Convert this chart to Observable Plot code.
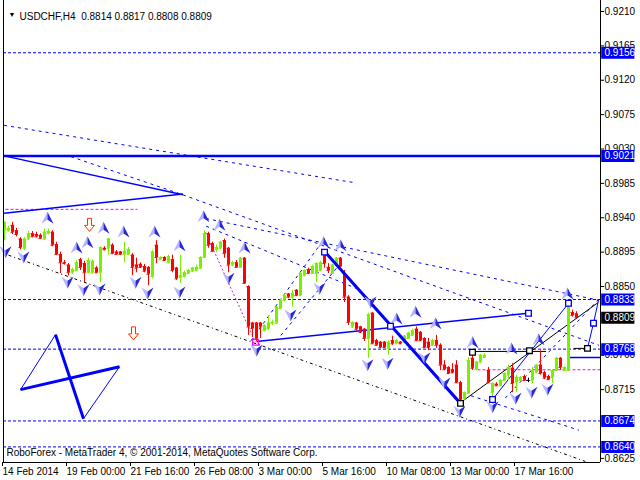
<!DOCTYPE html>
<html><head><meta charset="utf-8">
<script src="https://cdn.jsdelivr.net/npm/d3@7"></script>
<script src="https://cdn.jsdelivr.net/npm/@observablehq/plot@0.6"></script>
<style>html,body{margin:0;padding:0;background:#fff;overflow:hidden}</style>
</head><body><div id="chart"></div>
<script>
// ---- data (H4 bars, USDCHF) ----
const opens = [.8923,.8923,.8930,.8923,.8912,.8900,.8912,.8919,.8918,.8917,
.8912,.8919,.8921,.8905,.8892,.8881,.8878,.8868,.8871,.8885,
.8880,.8868,.8868,.8874,.8868,.8900,.8900,.8904,.8895,.8895,
.8892,.8892,.8891,.8878,.8879,.8876,.8875,.8863,.8904,.8885,
.8888,.8881,.8885,.8874,.8862,.8863,.8867,.8870,.8871,.8874,
.8888,.8919,.8906,.8898,.8900,.8910,.8900,.8878,.8881,.8875,
.8887,.8850,.8802,.8802,.8802,.8792,.8795,.8802,.8802,.8821,
.8832,.8840,.8836,.8845,.8838,.8864,.8872,.8867,.8867,.8871,
.8895,.8875,.8867,.8878,.8887,.8867,.8836,.8797,.8802,.8797,
.8794,.8782,.8815,.8779,.8777,.8777,.8769,.8779,.8775,.8777,
.8777,.8782,.8786,.8794,.8790,.8782,.8777,.8773,.8779,.8773,
.8747,.8744,.8741,.8747,.8724,.8703,.8710,.8756,.8741,.8751,
.8757,.8740,.8711,.8722,.8720,.8727,.8734,.8743,.8724,.8727,
.8732,.8727,.8727,.8737,.8747,.8737,.8732,.8731,.8740,.8756,
.8740,.8740,.8816,.8814];
const highs = [.8935,.8929,.8934,.8926,.8914,.8914,.8922,.8922,.8921,.8919,
.8925,.8925,.8923,.8908,.8895,.8884,.8880,.8874,.8884,.8887,
.8883,.8887,.8885,.8876,.8902,.8902,.8913,.8906,.8897,.8896,
.8908,.8901,.8893,.8887,.8881,.8879,.8876,.8897,.8910,.8889,
.8889,.8891,.8891,.8875,.8891,.8870,.8872,.8875,.8878,.8889,
.8923,.8921,.8908,.8904,.8909,.8912,.8901,.8883,.8884,.8888,
.8888,.8851,.8803,.8803,.8803,.8800,.8812,.8806,.8824,.8833,
.8840,.8841,.8845,.8846,.8868,.8872,.8874,.8878,.8881,.8883,
.8897,.8880,.8879,.8888,.8888,.8871,.8838,.8804,.8803,.8798,
.8795,.8815,.8816,.8781,.8778,.8778,.8779,.8785,.8781,.8778,
.8786,.8790,.8794,.8797,.8791,.8783,.8782,.8781,.8786,.8775,
.8753,.8745,.8749,.8753,.8726,.8712,.8757,.8764,.8752,.8761,
.8762,.8744,.8724,.8724,.8728,.8737,.8747,.8749,.8734,.8732,
.8734,.8730,.8744,.8748,.8766,.8739,.8734,.8740,.8757,.8757,
.8745,.8829,.8819,.8817];
const lows = [.8910,.8921,.8918,.8915,.8898,.8897,.8910,.8914,.8914,.8912,
.8910,.8918,.8902,.8891,.8867,.8878,.8864,.8866,.8870,.8871,
.8855,.8867,.8866,.8867,.8855,.8897,.8891,.8892,.8891,.8891,
.8881,.8891,.8864,.8868,.8874,.8868,.8851,.8860,.8880,.8884,
.8883,.8880,.8868,.8858,.8854,.8862,.8866,.8868,.8870,.8872,
.8887,.8900,.8895,.8895,.8898,.8887,.8868,.8876,.8874,.8874,
.8853,.8786,.8783,.8778,.8782,.8791,.8792,.8799,.8800,.8820,
.8830,.8834,.8823,.8837,.8837,.8863,.8866,.8866,.8855,.8870,
.8874,.8867,.8866,.8876,.8875,.8829,.8799,.8795,.8792,.8789,
.8778,.8756,.8774,.8772,.8769,.8769,.8760,.8773,.8774,.8774,
.8775,.8781,.8785,.8778,.8778,.8769,.8766,.8772,.8769,.8740,
.8740,.8735,.8736,.8723,.8696,.8701,.8709,.8740,.8740,.8749,
.8756,.8723,.8702,.8719,.8719,.8726,.8727,.8711,.8711,.8726,
.8726,.8724,.8723,.8736,.8734,.8728,.8727,.8723,.8739,.8740,
.8739,.8739,.8810,.8808];
const closes = [.8934,.8926,.8921,.8918,.8901,.8912,.8919,.8915,.8915,.8913,
.8921,.8922,.8904,.8892,.8881,.8880,.8868,.8872,.8881,.8875,
.8868,.8884,.8883,.8868,.8901,.8898,.8912,.8893,.8892,.8892,
.8896,.8898,.8875,.8874,.8875,.8870,.8866,.8895,.8888,.8888,
.8884,.8889,.8871,.8860,.8864,.8868,.8871,.8874,.8875,.8888,
.8919,.8904,.8896,.8901,.8908,.8893,.8878,.8881,.8875,.8887,
.8854,.8797,.8795,.8781,.8797,.8799,.8802,.8803,.8823,.8832,
.8838,.8836,.8841,.8838,.8867,.8871,.8867,.8876,.8880,.8881,
.8880,.8871,.8878,.8887,.8876,.8836,.8803,.8803,.8794,.8790,
.8782,.8813,.8775,.8773,.8770,.8770,.8777,.8775,.8779,.8775,
.8785,.8789,.8792,.8779,.8779,.8770,.8770,.8779,.8773,.8747,
.8741,.8736,.8737,.8724,.8701,.8711,.8753,.8743,.8751,.8760,
.8760,.8724,.8723,.8720,.8727,.8736,.8744,.8723,.8731,.8731,
.8727,.8727,.8740,.8747,.8736,.8730,.8728,.8740,.8756,.8744,
.8744,.8828,.8812,.8809];

const symbolName = "USDCHF,H4";
const xTickBars = [0,16,32,48,64,80,96,112,128];
const xTickLabels = ["14 Feb 2014","19 Feb 00:00","21 Feb 16:00","26 Feb 08:00","3 Mar 00:00","5 Mar 16:00","10 Mar 08:00","13 Mar 00:00","17 Mar 16:00"];
const yTicks = [0.9210,0.9165,0.9120,0.9075,0.9030,0.8985,0.8940,0.8895,0.8850,0.8760,0.8715,0.8625];
const dashedLevels = [0.9156,0.8833,0.8768,0.8674,0.8640];
const solidLevels = [0.9021];
const markedLevels = [0.9156,0.9021,0.8833,0.8768,0.8674,0.8640];
const copyright = "RoboForex - MetaTrader 4, © 2001-2014, MetaQuotes Software Corp.";

// drawing objects: [bar1, price1, bar2, price2]
const blueSolidLines = [[-0.1,0.9021,44.6,0.8970],[-0.1,0.8946,44.6,0.8971],[63,0.8778,131,0.8815],[141,0.8757,149,0.8757]];
const blueThinLines = [[122,0.8702,141,0.8828],[145.75,0.8769,147.25,0.8802],[147.25,0.8802,148.5,0.8832]];
const blueThickLines = [[80,0.8896,114,0.8697]];
const blackLines = [[114,0.8698,148.4,0.8829],[117,0.8765,135.4,0.8765],[142.3,0.8769,146,0.8769]];
const blueDashedLines = [[-0.1,0.9061,87.4,0.8986],[16.6,0.9020,44.6,0.8970],[44.6,0.8970,148.6,0.8773],
  [50.4,0.8939,148.6,0.8832],[50.4,0.8929,89.1,0.8845],[61.6,0.8779,79.6,0.8910],[69.1,0.8786,84.1,0.8881],
  [116.6,0.8707,143.6,0.8662],[125.2,0.8704,148.5,0.8833]];
const blackDashedLines = [[1,0.8891,145.2,0.8621]];
const magentaDashedLines = [[0.25,0.8951,33.25,0.8951],[118.25,0.8741,149,0.8741]];
const magentaDottedLines = [[50.25,0.8921,62.75,0.8777]];
const zThick = [[4,0.8715,28.75,0.8745],[12.75,0.8787,19.75,0.8677]];
const zThin = [[4,0.8715,12.75,0.8787],[19.75,0.8677,28.75,0.8745]];
const blueBoxes = [[80,0.8895],[122,0.8702],[141,0.8828],[147.25,0.8802],[131,0.8815],[96.5,0.8798]];
const blackBoxes = [[114,0.8697],[117,0.8764],[131.25,0.8766],[145.75,0.8769]];
const magentaBoxes = [[62.75,0.8777]];
const upArrows = [[10.75,.8940],[18,.8901],[20.75,.8908],[24.75,.8927],[29.75,.8922],[37.5,.8922],[43.75,.8904],
  [49.75,.8942],[53.75,.8931],[60,.8901],[79.75,.8908],[84,.8904],[98,.8808],[102.75,.8817],[107.75,.8802],
  [117,.8777],[126.75,.8769],[133.5,.8781],[140.75,.8841]];
const downArrows = [[0.25,.8895],[4.75,.8888],[15.75,.8855],[19.75,.8845],[23.75,.8846],[32.75,.8855],[35.75,.8841],
  [43.75,.8842],[56,.8860],[63,.8766],[71.5,.8812],[78.75,.8847],[90.75,.8747],[95.75,.8749],[91.5,.8829],
  [105,.8756],[110,.8723],[113.75,.8686],[122,.8692],[127.75,.8703],[131.75,.8711],[135.75,.8715]];
const redArrows = [[21.25,.8930],[32.25,.8788]];

// ---- build ----
const xDomain = [-0.25, 149];
const yDomain = [0.86196, 0.92244];
const bars = opens.map((o,i)=>({i, o, h: highs[i], l: lows[i], c: closes[i]}));
const last = bars[bars.length-1];
const colOf = d => d.c > d.o ? "#78f000" : d.c < d.o ? "#ff0000" : "#000000";
const seg = a => a.map(([x1,y1,x2,y2]) => ({x1,y1,x2,y2}));
const pt = a => a.map(([x,y]) => ({x,y}));

const sym = pts => ({draw(ctx){ ctx.moveTo(pts[0][0],pts[0][1]); for (let k=1;k<pts.length;k++) ctx.lineTo(pts[k][0],pts[k][1]); ctx.closePath(); }});
const upL = sym([[0,-6],[0,2],[-6,6]]), upR = sym([[0,-6],[6,6],[0,2]]);
const dnL = sym([[0,6],[0,-2],[-6,-6]]), dnR = sym([[0,6],[6,-6],[0,-2]]);
const redArrow = sym([[-2,-7],[2,-7],[2,0],[5,0],[0,6],[-5,0],[-2,0]]);

const titleText = symbolName + "\u00a0\u00a0" + [last.o,last.h,last.l,last.c].map(v=>v.toFixed(4)).join(" ");

const chart = Plot.plot({
  width: 640, height: 480,
  marginLeft: 3, marginRight: 40, marginTop: 0, marginBottom: 18,
  style: {fontFamily: "'Liberation Sans', Arial, sans-serif", fontSize: "10px", background: "#fff", color: "#000"},
  x: {type: "linear", domain: xDomain, axis: null},
  y: {type: "linear", domain: yDomain, axis: null},
  marks: [
    Plot.ruleY(dashedLevels, {stroke: "#0000ff", strokeDasharray: "3,2"}),
    Plot.ruleY(solidLevels, {stroke: "#0000ff", strokeWidth: 2.5}),
    Plot.link(seg(magentaDashedLines), {x1:"x1",y1:"y1",x2:"x2",y2:"y2", stroke:"#ff00ff", strokeDasharray:"3,2"}),
    Plot.link(seg(magentaDottedLines), {x1:"x1",y1:"y1",x2:"x2",y2:"y2", stroke:"#ff00ff", strokeDasharray:"2,2"}),
    Plot.link(seg(blueDashedLines), {x1:"x1",y1:"y1",x2:"x2",y2:"y2", stroke:"#0000ff", strokeDasharray:"3,4"}),
    Plot.link(seg(blackDashedLines), {x1:"x1",y1:"y1",x2:"x2",y2:"y2", stroke:"#000", strokeDasharray:"3,3,1,3"}),
    Plot.link(seg(blueSolidLines), {x1:"x1",y1:"y1",x2:"x2",y2:"y2", stroke:"#0000ff", strokeWidth:1.5}),
    Plot.link(seg(blueThinLines), {x1:"x1",y1:"y1",x2:"x2",y2:"y2", stroke:"#0000ff", strokeWidth:1}),
    Plot.link(seg(blackLines), {x1:"x1",y1:"y1",x2:"x2",y2:"y2", stroke:"#000", strokeWidth:1}),
    Plot.link(seg(zThin), {x1:"x1",y1:"y1",x2:"x2",y2:"y2", stroke:"#0000ff", strokeWidth:1}),
    Plot.link(seg(zThick), {x1:"x1",y1:"y1",x2:"x2",y2:"y2", stroke:"#0000ff", strokeWidth:3}),
    // candles
    Plot.ruleX(bars, {x:"i", y1:"l", y2:"h", stroke: colOf, strokeWidth: 1}),
    Plot.ruleX(bars, {x:"i", y1:"o", y2:"c", stroke: colOf, strokeWidth: 3}),
    Plot.ruleY(bars, {y:"o", x1: d=>d.i-0.375, x2: d=>d.i+0.375, stroke: colOf}),
    Plot.ruleY(bars, {y:"c", x1: d=>d.i-0.375, x2: d=>d.i+0.375, stroke: colOf}),
    Plot.link(seg(blueThickLines), {x1:"x1",y1:"y1",x2:"x2",y2:"y2", stroke:"#0000ff", strokeWidth:3}),
    // arrows
    Plot.dot(pt(upArrows), {x:"x", y:"y", symbol: upL, fill:"#b4b4ff", stroke:"none", r: 5}),
    Plot.dot(pt(upArrows), {x:"x", y:"y", symbol: upR, fill:"#2828d8", stroke:"none", r: 5}),
    Plot.dot(pt(downArrows), {x:"x", y:"y", symbol: dnL, fill:"#b4b4ff", stroke:"none", r: 5}),
    Plot.dot(pt(downArrows), {x:"x", y:"y", symbol: dnR, fill:"#2828d8", stroke:"none", r: 5}),
    Plot.dot(pt(redArrows), {x:"x", y:"y", symbol: redArrow, fill:"#fff6ee", stroke:"#ff3000", strokeWidth: 1, r: 5}),
    // boxes
    Plot.dot(pt(blueBoxes), {x:"x", y:"y", symbol:"square", r: 3.2, fill:"#fff", stroke:"#0000ff", strokeWidth: 1.3}),
    Plot.dot(pt(blackBoxes), {x:"x", y:"y", symbol:"square", r: 3.2, fill:"#fff", stroke:"#000", strokeWidth: 1.3}),
    Plot.dot(pt(magentaBoxes), {x:"x", y:"y", symbol:"square", r: 3.2, fill:"none", stroke:"#ff00ff", strokeWidth: 1.3}),
    // frame
    Plot.ruleX(xDomain, {stroke: "#000"}),
    Plot.ruleY([yDomain[0]], {stroke: "#000"}),
    // axes
    Plot.axisY({anchor: "right", ticks: yTicks, tickSize: 3, tickPadding: 1, tickFormat: d => d.toFixed(4), fontSize: 10, fill: "#000", stroke: "#000"}),
    Plot.axisX({anchor: "bottom", ticks: xTickBars, tickSize: 4, tickPadding: 1, textAnchor: "start", dx: -2,
      tickFormat: d => xTickLabels[xTickBars.indexOf(d)], fontSize: 10, fill: "#000", stroke: "#000"}),
    // marked level boxes on the price scale
    Plot.ruleY(markedLevels, {y: d=>d, x1: xDomain[1]+0.3, x2: xDomain[1]+8.6, stroke: "#0000ff", strokeWidth: 12}),
    Plot.text(markedLevels, {y: d=>d, text: d=>d.toFixed(4), frameAnchor: "right", dx: 4, textAnchor: "start", fill: "#fff", fontSize: 10}),
    Plot.ruleY([last.c], {y: d=>d, x1: xDomain[1]+0.3, x2: xDomain[1]+8.6, stroke: "#000", strokeWidth: 12}),
    Plot.text([last.c], {y: d=>d, text: d=>d.toFixed(4), frameAnchor: "right", dx: 4, textAnchor: "start", fill: "#fff", fontSize: 10}),
    // header / footer
    Plot.text(["▼"], {frameAnchor: "top-left", dx: 5, dy: 12, fontSize: 7, textAnchor: "start", fill: "#000"}),
    Plot.text([titleText], {frameAnchor: "top-left", dx: 16, dy: 12, fontSize: 10, textAnchor: "start", fill: "#000"}),
    Plot.text([copyright], {frameAnchor: "bottom-left", dx: 3, dy: -7, fontSize: 10, textAnchor: "start", fill: "#000"})
  ]
});
document.getElementById("chart").appendChild(chart);
</script>
</body></html>
